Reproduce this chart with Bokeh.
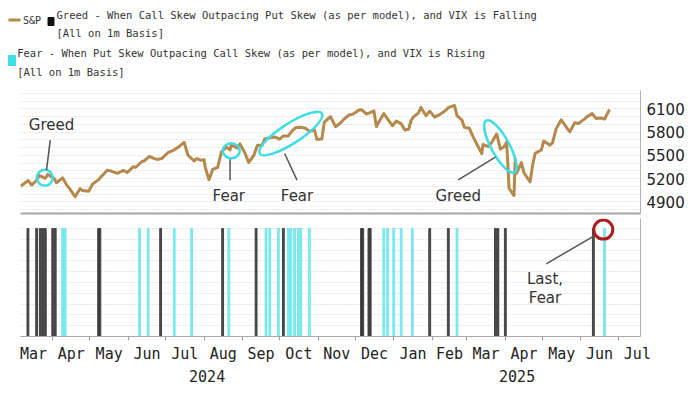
import pandas as pd
from bokeh.plotting import figure
from bokeh.layouts import column, row
from bokeh.models import Range1d, FixedTicker, CustomJSTickFormatter, LinearAxis
from bokeh.embed import file_html
from bokeh.resources import INLINE
from bokeh.core.properties import value

# ---------------- data ----------------
spx_dates = [
    "2024-03-06", "2024-03-08", "2024-03-12", "2024-03-15", "2024-03-19", "2024-03-21", "2024-03-26", "2024-03-28",
    "2024-04-02", "2024-04-04", "2024-04-09", "2024-04-12", "2024-04-15", "2024-04-19", "2024-04-23", "2024-04-25",
    "2024-04-30", "2024-05-03", "2024-05-08", "2024-05-10", "2024-05-15", "2024-05-17", "2024-05-23", "2024-05-28",
    "2024-05-31", "2024-06-05", "2024-06-07", "2024-06-12", "2024-06-14", "2024-06-18", "2024-06-21", "2024-06-24",
    "2024-06-28", "2024-07-03", "2024-07-08", "2024-07-12", "2024-07-16", "2024-07-19", "2024-07-24", "2024-07-26",
    "2024-07-30", "2024-08-01", "2024-08-02", "2024-08-05", "2024-08-08", "2024-08-12", "2024-08-15", "2024-08-19",
    "2024-08-22", "2024-08-23", "2024-08-28", "2024-08-30", "2024-09-03", "2024-09-06", "2024-09-10", "2024-09-13",
    "2024-09-17", "2024-09-19", "2024-09-24", "2024-09-27", "2024-10-01", "2024-10-04", "2024-10-08", "2024-10-11",
    "2024-10-14", "2024-10-18", "2024-10-22", "2024-10-25", "2024-10-29", "2024-10-31", "2024-11-04", "2024-11-06",
    "2024-11-11", "2024-11-15", "2024-11-19", "2024-11-22", "2024-11-26", "2024-11-29", "2024-12-04", "2024-12-06",
    "2024-12-10", "2024-12-13", "2024-12-16", "2024-12-18", "2024-12-20", "2024-12-24", "2024-12-27", "2024-12-31",
    "2025-01-03", "2025-01-07", "2025-01-10", "2025-01-13", "2025-01-15", "2025-01-17", "2025-01-21", "2025-01-23",
    "2025-01-27", "2025-01-30", "2025-02-03", "2025-02-07", "2025-02-11", "2025-02-14", "2025-02-19", "2025-02-21",
    "2025-02-25", "2025-02-27", "2025-03-03", "2025-03-06", "2025-03-10", "2025-03-13", "2025-03-14", "2025-03-18",
    "2025-03-21", "2025-03-25", "2025-03-28", "2025-03-31", "2025-04-02", "2025-04-03", "2025-04-04", "2025-04-08",
    "2025-04-09", "2025-04-10", "2025-04-14", "2025-04-16", "2025-04-21", "2025-04-23", "2025-04-25", "2025-04-30",
    "2025-05-02", "2025-05-07", "2025-05-09", "2025-05-12", "2025-05-16", "2025-05-21", "2025-05-23", "2025-05-27",
    "2025-05-30", "2025-06-04", "2025-06-06", "2025-06-10", "2025-06-13", "2025-06-17", "2025-06-20", "2025-06-24",
]
spx_values = [
    5105, 5124, 5175, 5117, 5178, 5241, 5204, 5254,
    5205, 5147, 5209, 5123, 5061, 4967, 5070, 5048,
    5036, 5128, 5187, 5223, 5308, 5303, 5268, 5306,
    5278, 5354, 5347, 5421, 5431, 5487, 5465, 5448,
    5460, 5537, 5572, 5615, 5667, 5505, 5427, 5459,
    5436, 5446, 5346, 5186, 5319, 5344, 5543, 5608,
    5570, 5634, 5592, 5648, 5529, 5408, 5496, 5626,
    5634, 5713, 5732, 5738, 5709, 5751, 5751, 5815,
    5859, 5864, 5851, 5808, 5832, 5705, 5712, 5929,
    6001, 5870, 5917, 5969, 6021, 6032, 6086, 6090,
    6034, 6051, 6074, 5872, 5930, 6040, 5970, 5882,
    5942, 5909, 5827, 5836, 5950, 5997, 6049, 6119,
    6012, 6071, 5994, 6026, 6068, 6115, 6144, 6013,
    5955, 5861, 5849, 5739, 5615, 5522, 5639, 5615,
    5667, 5776, 5581, 5612, 5671, 5396, 5074, 4982,
    5457, 5268, 5406, 5276, 5158, 5376, 5525, 5569,
    5686, 5631, 5660, 5844, 5958, 5845, 5803, 5922,
    5912, 5971, 6000, 6039, 5977, 5982, 5968, 6092,
]
greed_dates = [
    "2024-03-12", "2024-03-19", "2024-03-22", "2024-03-24", "2024-03-26", "2024-04-01", "2024-04-03",
    "2024-05-08", "2024-05-09", "2024-06-27", "2024-08-16", "2024-09-12", "2024-10-04",
    "2024-12-06", "2024-12-07", "2024-12-12", "2024-12-13", "2025-01-30", "2025-02-14",
    "2025-03-24", "2025-03-26", "2025-04-01", "2025-06-11",
]
fear_dates = [
    "2024-04-09", "2024-04-11", "2024-06-10", "2024-06-17", "2024-07-08", "2024-07-22", "2024-08-21",
    "2024-09-20", "2024-09-23", "2024-09-30", "2024-10-08", "2024-10-10", "2024-10-13", "2024-10-16",
    "2024-10-18", "2024-10-25", "2024-12-24", "2024-12-27", "2025-01-01", "2025-01-07", "2025-01-16",
    "2025-02-21", "2025-06-20",
]
price_ticks = [4900, 5200, 5500, 5800, 6100]
x_start, x_end = "2024-03-06", "2025-07-19"

greed_label = "Greed - When Call Skew Outpacing Put Skew (as per model), and VIX is Falling"
fear_label = "Fear - When Put Skew Outpacing Call Skew (as per model), and VIX is Rising"
basis_label = "[All on 1m Basis]"


def ms(d):
    return pd.Timestamp(d).value / 1e6


DAY = 86400000.0
X0, X1 = ms(x_start), ms(x_end)
spx_ms = [ms(d) for d in spx_dates]
greed_ms = [ms(d) for d in greed_dates]
fear_ms = [ms(d) for d in fear_dates]

month_starts = pd.date_range("2024-03-01", "2025-08-01", freq="MS")
month_mid = [(ms(a) + ms(b)) / 2 for a, b in zip(month_starts[:-1], month_starts[1:])]
month_edge = [ms(a) for a in month_starts]
y2025 = ms("2025-01-01")
year_mid = [(X0 + y2025) / 2, (y2025 + X1) / 2]

W = 690
TAN = "#b5884c"
CYAN = "#3ddde5"
TXT = "#333333"
MONO = value("DejaVu Sans Mono")
SANS = value("DejaVu Sans")

# ---------------- legend ----------------
leg = figure(width=W, height=88, x_range=Range1d(0, W), y_range=Range1d(0, 88),
             x_axis_location=None, y_axis_location=None, toolbar_location=None,
             output_backend="svg", min_border=0)
leg.outline_line_color = None
leg.grid.visible = False
leg.line(x=[8, 20], y=[68.5, 68.5], color=TAN, line_width=3)
leg.text(x=[22.5], y=[68.5], text=["S&P"], text_font=MONO, text_font_size="10px",
         text_baseline="middle", text_color=TXT)
leg.rect(x=[50.5], y=[67], width=6, height=8, color="#111111")
leg.rect(x=[11.5], y=[28], width=7, height=10, color=CYAN)
leg.text(x=[56, 56, 16.7, 16.7], y=[74, 55.7, 35.7, 17],
         text=[greed_label, basis_label, fear_label, basis_label],
         text_font=MONO, text_font_size="10.5px", text_baseline="middle", text_color=TXT)

# ---------------- top panel ----------------
top = figure(width=W, height=127, x_range=Range1d(X0, X1), y_range=Range1d(4750, 6337),
             y_axis_location="right", toolbar_location=None, output_backend="svg",
             min_border_left=20, min_border_right=50, min_border_top=2, min_border_bottom=2)
top.outline_line_color = None
top.xgrid.visible = False
top.ygrid.ticker = FixedTicker(ticks=list(range(4800, 6400, 100)))
top.ygrid.grid_line_color = "#cccccc"
top.ygrid.grid_line_dash = "1 2"
top.yaxis.ticker = FixedTicker(ticks=price_ticks)
top.yaxis.major_tick_out = 0
top.yaxis.major_tick_in = 0
top.yaxis.minor_tick_out = 0
top.yaxis.minor_tick_in = 0
top.yaxis.axis_line_color = "#b0b0b0"
top.yaxis.major_label_standoff = 6
top.yaxis.major_label_text_font = "DejaVu Sans"
top.yaxis.major_label_text_font_size = "15px"
top.yaxis.major_label_text_color = "#222222"
top.xaxis.ticker = FixedTicker(ticks=[])
top.xaxis.major_label_text_font_size = "0px"
top.xaxis.major_label_standoff = 0
top.xaxis.major_tick_out = 0
top.xaxis.minor_tick_out = 0
top.xaxis.axis_line_color = "#a8a8a8"
top.xaxis.axis_line_width = 2

top.line(x=spx_ms, y=spx_values, color=TAN, line_width=3, line_join="round")

top.ellipse(x=[ms("2024-03-25 14:00"), ms("2024-08-23"), ms("2024-10-10"), ms("2025-03-28")],
            y=[5211, 5560, 5782, 5615],
            width=[16, 17, 74, 59], height=[16, 15, 20, 18], angle=[0, 0, 0.573, -1.07],
            width_units="screen", height_units="screen",
            fill_color=None, line_color=CYAN, line_width=2.5)
top.segment(x0=[ms("2024-03-30"), ms("2024-08-22"), ms("2024-10-05"), ms("2025-02-22")],
            y0=[5696, 5451, 5524, 5185],
            x1=[ms("2024-03-27"), ms("2024-08-22"), ms("2024-10-15"), ms("2025-03-24")],
            y1=[5309, 5180, 5180, 5477],
            color="#555555", line_width=1.5)
top.text(x=[ms("2024-03-31"), ms("2024-08-21"), ms("2024-10-15"), ms("2025-02-22")],
         y=[5898, 4982, 4982, 4982], text=["Greed", "Fear", "Fear", "Greed"],
         text_font=SANS, text_font_size="15px", text_align="center", text_baseline="middle",
         text_color=TXT)

# ---------------- bottom panel ----------------
bot = figure(width=W, height=171, x_range=top.x_range, y_range=Range1d(0, 1.093),
             y_axis_location="right", toolbar_location=None, output_backend="svg",
             min_border_left=20, min_border_right=50, min_border_top=3, min_border_bottom=50)
bot.outline_line_color = None
bot.xgrid.visible = False
bot.ygrid.ticker = FixedTicker(ticks=[i / 10 for i in range(1, 11)])
bot.ygrid.grid_line_color = "#cccccc"
bot.ygrid.grid_line_dash = "1 2"
bot.yaxis.ticker = FixedTicker(ticks=[])
bot.yaxis.major_label_text_font_size = "0px"
bot.yaxis.major_tick_out = 0
bot.yaxis.minor_tick_out = 0
bot.yaxis.axis_line_color = "#b0b0b0"

bot.xaxis.ticker = FixedTicker(ticks=month_mid, minor_ticks=month_edge)
bot.xaxis.formatter = CustomJSTickFormatter(code="""
const m = ["Jan","Feb","Mar","Apr","May","Jun","Jul","Aug","Sep","Oct","Nov","Dec"];
return m[new Date(tick).getUTCMonth()];
""")
bot.xaxis.major_tick_out = 0
bot.xaxis.major_tick_in = 0
bot.xaxis.minor_tick_out = 4
bot.xaxis.minor_tick_in = 0
bot.xaxis.minor_tick_line_color = "#999999"
bot.xaxis.axis_line_color = "#a8a8a8"
bot.xaxis.major_label_standoff = 4
bot.xaxis.major_label_text_font = "DejaVu Sans Mono"
bot.xaxis.major_label_text_font_size = "15px"
bot.xaxis.major_label_text_color = "#222222"

year_axis = LinearAxis(ticker=FixedTicker(ticks=year_mid),
                       formatter=CustomJSTickFormatter(code="return String(new Date(tick).getUTCFullYear());"),
                       axis_line_color=None, major_tick_out=0, major_tick_in=0,
                       minor_tick_out=0, minor_tick_in=0, major_label_standoff=4,
                       major_label_text_font="DejaVu Sans Mono", major_label_text_font_size="15px",
                       major_label_text_color="#222222")
bot.add_layout(year_axis, "below")

bot.vbar(x=fear_ms, top=1, bottom=0, width=1.5 * DAY, color="#5fe3ea", alpha=0.75)
bot.vbar(x=greed_ms, top=1, bottom=0, width=1.5 * DAY, color="#3a3a3a", alpha=0.9)

bot.ellipse(x=[ms("2025-06-19")], y=[0.99], width=[19], height=[19],
            width_units="screen", height_units="screen",
            fill_color=None, line_color="#b01c1c", line_width=3)
bot.segment(x0=[ms("2025-06-12")], y0=[0.935], x1=[ms("2025-05-04")], y1=[0.673],
            color="#555555", line_width=1.5)
bot.text(x=[ms("2025-05-03"), ms("2025-05-03")], y=[0.534, 0.358], text=["Last,", "Fear"],
         text_font=SANS, text_font_size="15px", text_align="center", text_baseline="middle",
         text_color=TXT)

layout = column(row(leg), top, bot)
open("out.html", "w").write(file_html(layout, INLINE))
